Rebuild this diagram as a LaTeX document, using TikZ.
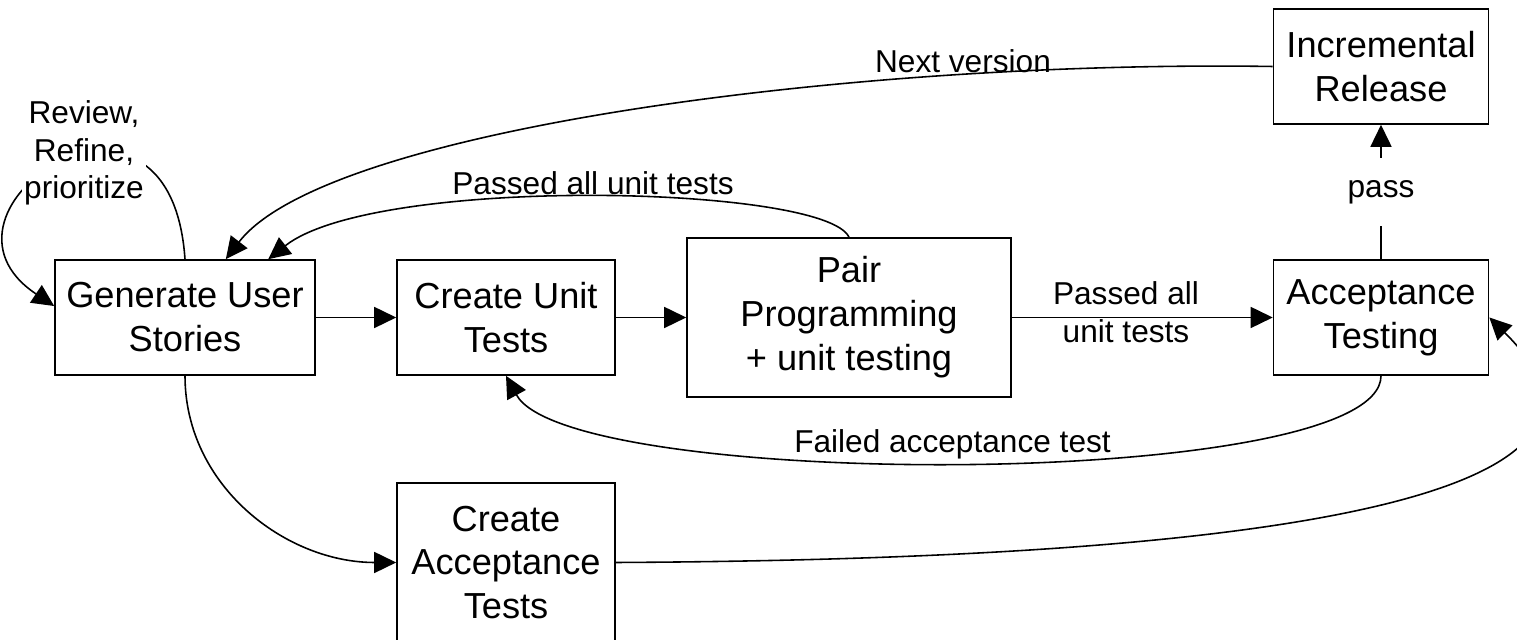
\documentclass[tikz,border=0pt]{standalone}
\usepackage{fontspec}
\setmainfont{Liberation Sans}
\usetikzlibrary{arrows.meta}

\begin{document}
\begin{tikzpicture}[>={Triangle[length=0.44cm,width=0.42cm]}, line width=0.9pt,
  stage/.style={draw,align=center,inner sep=0pt,font=\fontsize{20.6}{25}\selectfont},
  lbl/.style={align=center,inner sep=1pt,font=\fontsize{18}{21.3}\selectfont}]
\useasboundingbox (0,0) rectangle (30.34,12.8);

% the boxes
\node[stage,minimum width=5.2cm,minimum height=2.3cm] (gen) at (3.7,6.45) {Generate User\\Stories};
\node[stage,minimum width=4.36cm,minimum height=2.3cm] (cut) at (10.12,6.45) {Create Unit\\Tests};
\node[stage,minimum width=6.48cm,minimum height=3.18cm] (pair) at (16.98,6.45) {Pair\\Programming\\+ unit testing};
\node[stage,minimum width=4.3cm,minimum height=2.3cm] (acc) at (27.62,6.45) {Acceptance\\Testing};
\node[stage,minimum width=4.3cm,minimum height=2.3cm] (inc) at (27.62,11.47) {Incremental\\Release};
\node[stage,minimum width=4.36cm,minimum height=3.18cm] (acct) at (10.12,1.55) {Create\\Acceptance\\Tests};

% straight arrows
\draw[->] (gen) -- (cut);
\draw[->] (cut) -- (pair);
\draw[->] (pair) -- (acc);
\draw[->] (acc.north) -- node[lbl,fill=white,inner ysep=0.45cm] (passl) {pass} (inc.south);
\node[lbl] (passm) at (22.52,6.56) {Passed all\\unit tests};

% curved arrows
\draw[->] (gen.north) .. controls (3.4,12.0) and (-1.8,8.6) .. (gen.175);
\node[lbl,fill=white] (review) at (1.68,9.74) {Review,\\Refine,\\prioritize};

\draw[->] (inc.west) .. controls (17,11.6) and (6.5,10.2) .. (gen.55);
\node[lbl,anchor=base] (nextv) at (19.26,11.34) {Next version};

\draw[->] (pair.north) .. controls (16.5,9.1) and (7.5,9.3) .. (gen.35);
\node[lbl,anchor=base] (passu) at (11.86,8.9) {Passed all unit tests};

\draw[->] (acc.south) .. controls (27.62,2.98) and (11.38,2.98) .. (cut.south);
\node[lbl,anchor=base] (faila) at (19.05,3.74) {Failed acceptance test};

\draw[->] (gen.south) to[out=-90,in=180] (acct.west);
\draw[->] (acct.east) .. controls (22,1.6) and (34,2.3) .. (acc.east);

\end{tikzpicture}
\end{document}
